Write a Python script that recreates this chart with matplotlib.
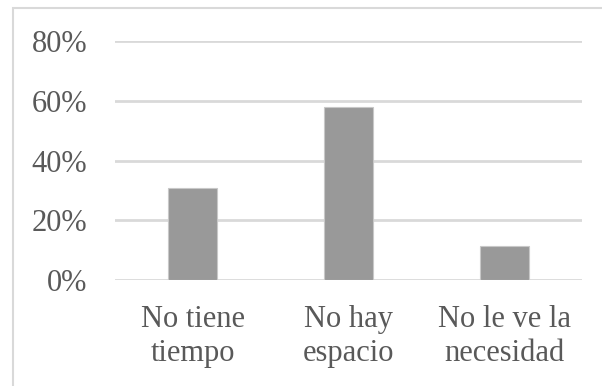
import matplotlib
matplotlib.use('Agg')
import matplotlib.pyplot as plt
from matplotlib.patches import Rectangle
from matplotlib.ticker import PercentFormatter

# datos
categorias = ['No tiene\ntiempo', 'No hay\nespacio', 'No le ve la\nnecesidad']
valores = [0.308, 0.577, 0.115]
yticks = [0, 0.2, 0.4, 0.6, 0.8]

plt.rcParams['font.family'] = ['Liberation Serif', 'DejaVu Serif']

W, H = 602, 386
fig = plt.figure(figsize=(W / 100, H / 100), dpi=100)
fig.patch.set_facecolor('white')

# borde exterior del gráfico (sólo se ven izquierda y arriba)
fig.patches.append(Rectangle((13 / W, -0.1), 1.2, (H - 8) / H + 0.1,
                             transform=fig.transFigure, fill=False,
                             edgecolor='#d9d9d9', linewidth=1.5))

ax = fig.add_axes([115 / W, 1 - 280.3 / H, (582 - 115) / W, (280.3 - 40.7) / H])
x = range(len(categorias))
ax.bar(x, valores, width=0.315, color='#999999', edgecolor='#c8c8c8',
       linewidth=0.8, zorder=3)

ax.set_xlim(-0.5, 2.5)
ax.set_ylim(0, 0.8)
ax.set_yticks(yticks)
ax.yaxis.set_major_formatter(PercentFormatter(1.0, decimals=0))
ax.set_xticks(list(x))
ax.set_xticklabels(categorias)

ax.grid(axis='y', color='#d9d9d9', linewidth=2, zorder=0)
for s in ax.spines.values():
    s.set_visible(False)
ax.tick_params(axis='both', length=0, labelsize=22, labelcolor='#595959')
ax.tick_params(axis='y', pad=20)
ax.tick_params(axis='x', pad=18)

fig.savefig('out.png', dpi=100)
